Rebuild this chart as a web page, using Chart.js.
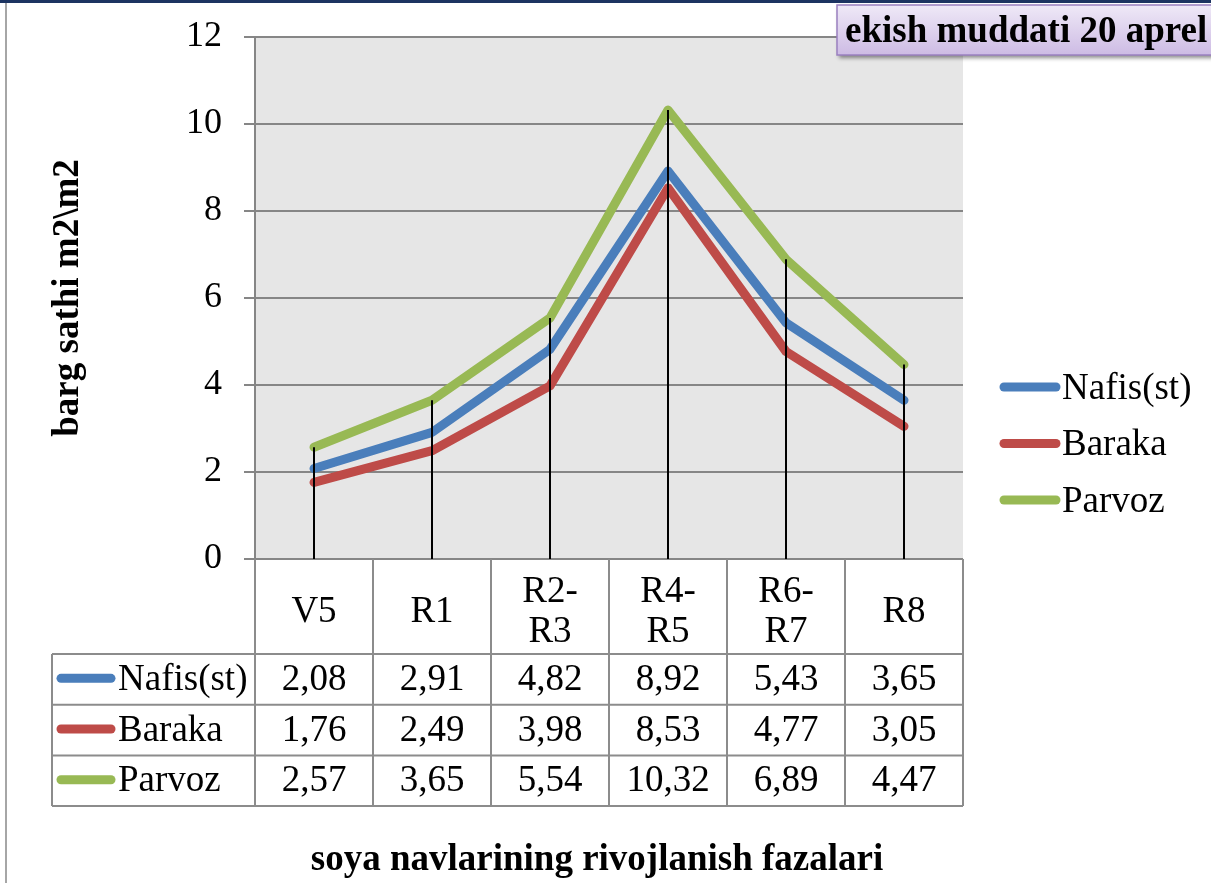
<!DOCTYPE html>
<html lang="uz">
<head>
  <meta charset="UTF-8">
  <title>barg sathi</title>
  <script src="https://cdn.jsdelivr.net/npm/chart.js"></script>
  <style>
    html, body { margin: 0; padding: 0; background: #fff; }
    canvas { display: block; }
  </style>
</head>
<body>
  <canvas id="chart" width="1211" height="883"></canvas>
  <script>
    // Ma'lumotlar (jadvaldan olingan)
    const categories = ['V5', 'R1', ['R2-', 'R3'], ['R4-', 'R5'], ['R6-', 'R7'], 'R8'];
    const seriesNames = ['Nafis(st)', 'Baraka', 'Parvoz'];
    const nafis = [2.08, 2.91, 4.82, 8.92, 5.43, 3.65];
    const baraka = [1.76, 2.49, 3.98, 8.53, 4.77, 3.05];
    const parvoz = [2.57, 3.65, 5.54, 10.32, 6.89, 4.47];
    const yTicks = [0, 2, 4, 6, 8, 10, 12];
    const colors = ['#4a7ebb', '#be4b48', '#98b954'];

    const serif = "'Liberation Serif', 'Times New Roman', serif";
    const allSeries = [nafis, baraka, parvoz];
    const fmt = v => v.toFixed(2).replace('.', ',');

    function line(ctx, x1, y1, x2, y2) {
      ctx.beginPath();
      ctx.moveTo(x1, y1);
      ctx.lineTo(x2, y2);
      ctx.stroke();
    }

    // fon, ramka va diagramma maydoni
    const background = {
      id: 'background',
      beforeDraw(chart) {
        const { ctx, chartArea: ca, width, height } = chart;
        ctx.save();
        ctx.fillStyle = '#fff';
        ctx.fillRect(0, 0, width, height);
        ctx.fillStyle = '#e6e6e6';
        ctx.fillRect(ca.left, ca.top, ca.right - ca.left, ca.bottom - ca.top);
        ctx.fillStyle = '#1c3461';
        ctx.fillRect(0, 0, width, 3);
        ctx.strokeStyle = '#a6a6a6';
        ctx.lineWidth = 2;
        line(ctx, 6, 3, 6, height);
        ctx.restore();
      }
    };

    // vertikal chiziqlar (0 dan eng yuqori qiymatgacha)
    const dropLines = {
      id: 'dropLines',
      afterDatasetsDraw(chart) {
        const { ctx, scales: { x, y } } = chart;
        ctx.save();
        ctx.strokeStyle = '#000';
        ctx.lineWidth = 2;
        categories.forEach((c, i) => {
          const top = Math.max(...allSeries.map(s => s[i]));
          const px = Math.round(x.getPixelForValue(i));
          line(ctx, px, y.getPixelForValue(0), px, y.getPixelForValue(top));
        });
        ctx.restore();
      }
    };

    // jadval, legenda va sarlavhalar
    const extras = {
      id: 'extras',
      afterDraw(chart) {
        const { ctx, chartArea: ca, scales: { x } } = chart;
        const n = categories.length;
        const edges = [ca.left];
        for (let i = 0; i < n - 1; i++) {
          edges.push((x.getPixelForValue(i) + x.getPixelForValue(i + 1)) / 2);
        }
        edges.push(ca.right);
        const tableLeft = 52, headBottom = 654, rowH = 50.7;
        const tableBottom = headBottom + rowH * 3;

        ctx.save();
        ctx.strokeStyle = '#8c8c8c';
        ctx.lineWidth = 2;
        edges.forEach(ex => line(ctx, ex, ca.bottom, ex, tableBottom));
        line(ctx, tableLeft, headBottom, tableLeft, tableBottom);
        for (let r = 0; r <= 3; r++) {
          line(ctx, tableLeft, headBottom + r * rowH, ca.right, headBottom + r * rowH);
        }

        ctx.font = '37px ' + serif;
        ctx.fillStyle = '#000';
        ctx.textBaseline = 'middle';
        allSeries.forEach((s, r) => {
          const cy = headBottom + rowH * (r + 0.5);
          ctx.textAlign = 'center';
          s.forEach((v, i) => ctx.fillText(fmt(v), x.getPixelForValue(i), cy + 1));
          ctx.strokeStyle = colors[r];
          ctx.lineWidth = 9;
          ctx.lineCap = 'round';
          line(ctx, 61, cy - 1, 111, cy - 1);
          ctx.textAlign = 'left';
          ctx.fillText(seriesNames[r], 118, cy + 1);
        });

        // legenda
        seriesNames.forEach((name, r) => {
          const cy = 387 + r * 56.5;
          ctx.strokeStyle = colors[r];
          ctx.lineWidth = 9;
          ctx.lineCap = 'round';
          line(ctx, 1004, cy, 1056, cy);
          ctx.textAlign = 'left';
          ctx.fillText(name, 1062, cy + 2);
        });

        // x o'qi sarlavhasi
        ctx.font = 'bold 37px ' + serif;
        ctx.textAlign = 'center';
        ctx.fillText('soya navlarining rivojlanish fazalari', 597, 860);

        // sarlavha qutisi
        ctx.save();
        ctx.shadowColor = 'rgba(0,0,0,0.45)';
        ctx.shadowBlur = 4;
        ctx.shadowOffsetX = 2;
        ctx.shadowOffsetY = 3;
        const g = ctx.createLinearGradient(0, 5, 0, 55);
        g.addColorStop(0, '#efe9f7');
        g.addColorStop(1, '#cdbbe4');
        ctx.fillStyle = g;
        ctx.fillRect(837, 5, 390, 50);
        ctx.restore();
        ctx.strokeStyle = '#9a80c0';
        ctx.lineWidth = 1.5;
        ctx.strokeRect(837, 5, 390, 50);
        ctx.fillStyle = '#000';
        ctx.textAlign = 'left';
        ctx.fillText('ekish muddati 20 aprel', 845, 32);
        ctx.restore();
      }
    };

    new Chart(document.getElementById('chart'), {
      type: 'line',
      data: {
        labels: categories,
        datasets: seriesNames.map((name, k) => ({
          label: name,
          data: allSeries[k],
          borderColor: colors[k],
          backgroundColor: colors[k],
          borderWidth: 9,
          pointRadius: 0,
          tension: 0,
          borderCapStyle: 'round',
          borderJoinStyle: 'round',
          order: 2 - k
        }))
      },
      options: {
        responsive: false,
        animation: false,
        layout: { padding: { left: 40, right: 248, top: 37, bottom: 0 } },
        plugins: {
          legend: { display: false },
          tooltip: { enabled: false }
        },
        scales: {
          x: {
            offset: true,
            grid: { display: false, drawTicks: false },
            border: { display: false },
            ticks: {
              color: '#000',
              autoSkip: false,
              maxRotation: 0,
              crossAlign: 'center',
              padding: 33,
              font: { family: serif, size: 37, lineHeight: 1.08 }
            },
            afterFit: s => { s.height = 324; }
          },
          y: {
            min: 0,
            max: 12,
            afterBuildTicks: s => { s.ticks = yTicks.map(v => ({ value: v })); },
            ticks: {
              color: '#000',
              padding: 22,
              font: { family: serif, size: 36 }
            },
            grid: { color: '#868686', lineWidth: 2, tickLength: 11 },
            border: { color: '#868686', width: 2 },
            title: {
              display: true,
              text: 'barg sathi m2\\m2',
              color: '#000',
              font: { family: serif, size: 37, weight: 'bold' },
              padding: { top: 6, bottom: 0 }
            },
            afterFit: s => {
              s.width = 215;
              s.paddingTop = 0;
              s.paddingBottom = 0;
            }
          }
        }
      },
      plugins: [background, dropLines, extras]
    });
  </script>
</body>
</html>
